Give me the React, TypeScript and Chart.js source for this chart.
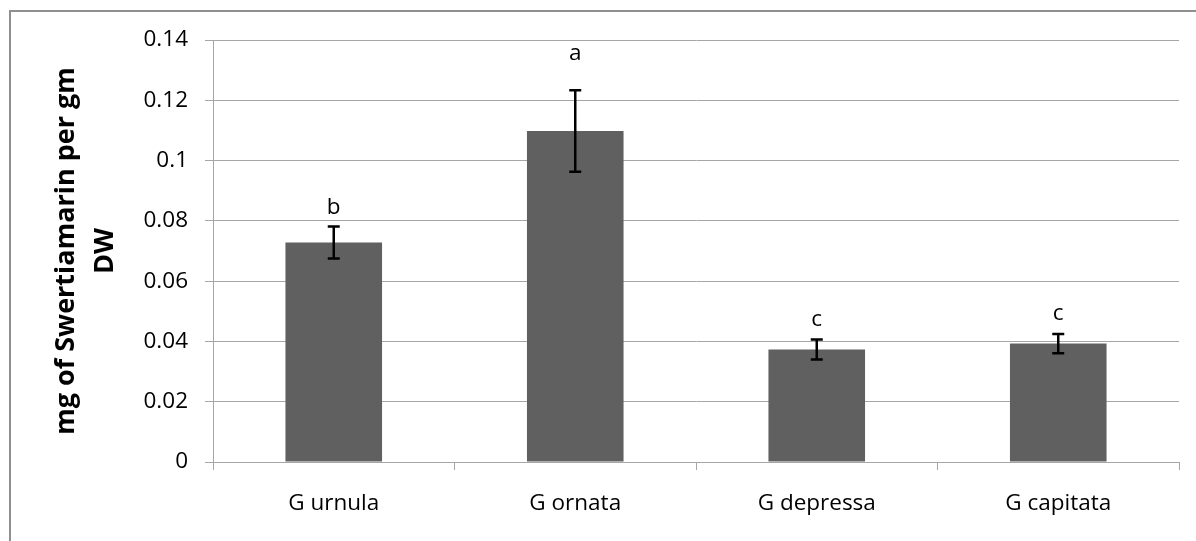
import React, { useEffect, useRef } from "react";
import { Chart, registerables } from "chart.js";

Chart.register(...registerables);

const categories = ["G urnula", "G ornata", "G depressa", "G capitata"];
const values = [0.0728, 0.1098, 0.0373, 0.0393];
const errors = [0.0053, 0.0135, 0.0033, 0.0032];
const groupLetters = ["b", "a", "c", "c"];
const letterBaselines = [0.0824, 0.1333, 0.045, 0.047];
const yTickLabels = ["0", "0.02", "0.04", "0.06", "0.08", "0.1", "0.12", "0.14"];
const yTitleLines = ["mg of Swertiamarin per gm", "DW"];

const FONT = "'Open Sans', 'Liberation Sans', sans-serif";
const GRID = "#a6a6a6";

const overlayPlugin = {
  id: "overlay",
  beforeDraw(chart: any) {
    const ctx = chart.ctx;
    ctx.save();
    ctx.fillStyle = "#ffffff";
    ctx.fillRect(0, 0, chart.width, chart.height);
    ctx.restore();
  },
  afterDatasetsDraw(chart: any) {
    const ctx = chart.ctx;
    const meta = chart.getDatasetMeta(0);
    const ys = chart.scales.y;
    ctx.save();
    ctx.strokeStyle = "#000000";
    ctx.lineWidth = 2.5;
    meta.data.forEach((bar: any, i: number) => {
      const x = bar.x;
      const top = ys.getPixelForValue(values[i] + errors[i]);
      const bot = ys.getPixelForValue(values[i] - errors[i]);
      ctx.beginPath();
      ctx.moveTo(x, top);
      ctx.lineTo(x, bot);
      ctx.moveTo(x - 6, top);
      ctx.lineTo(x + 6, top);
      ctx.moveTo(x - 6, bot);
      ctx.lineTo(x + 6, bot);
      ctx.stroke();
      ctx.fillStyle = "#000000";
      ctx.font = `22.5px ${FONT}`;
      ctx.textAlign = "center";
      ctx.textBaseline = "alphabetic";
      ctx.fillText(groupLetters[i], x, ys.getPixelForValue(letterBaselines[i]));
    });
    ctx.restore();
  },
  afterDraw(chart: any) {
    const ctx = chart.ctx;
    const area = chart.chartArea;
    const cy = (area.top + area.bottom) / 2;
    ctx.save();
    ctx.fillStyle = "#000000";
    ctx.font = `bold 27px ${FONT}`;
    ctx.textAlign = "center";
    ctx.textBaseline = "alphabetic";
    const baselines = [73.5, 112.5];
    yTitleLines.forEach((line, i) => {
      ctx.save();
      ctx.translate(baselines[i], cy);
      ctx.rotate(-Math.PI / 2);
      ctx.fillText(line, 0, 0);
      ctx.restore();
    });
    ctx.strokeStyle = "#8f8f8f";
    ctx.lineWidth = 2;
    ctx.strokeRect(10, 11, chart.width + 20, chart.height + 20);
    ctx.restore();
  },
};

export default function App() {
  const canvasRef = useRef<HTMLCanvasElement | null>(null);

  useEffect(() => {
    const canvas = canvasRef.current;
    if (!canvas) return;
    const chart = new Chart(canvas, {
      type: "bar",
      data: {
        labels: categories,
        datasets: [
          {
            data: values,
            backgroundColor: "#606060",
            borderWidth: 0,
            barPercentage: 0.4,
            categoryPercentage: 1,
          },
        ],
      },
      options: {
        responsive: false,
        animation: false,
        devicePixelRatio: 1,
        layout: { padding: { top: 40, right: 17, left: 0, bottom: 0 } },
        plugins: {
          legend: { display: false },
          tooltip: { enabled: false },
          title: { display: false },
        },
        scales: {
          x: {
            grid: {
              offset: true,
              drawOnChartArea: false,
              color: GRID,
              tickLength: 8,
            },
            border: { color: GRID },
            ticks: {
              color: "#000000",
              font: { family: FONT, size: 22.5 },
              padding: 20,
              maxRotation: 0,
            },
            afterFit: (s: any) => {
              s.height = 79;
            },
          },
          y: {
            min: 0,
            max: 0.14,
            ticks: {
              stepSize: 0.02,
              color: "#000000",
              font: { family: FONT, size: 22.5 },
              padding: 17,
              callback: (_v: any, i: number) => yTickLabels[i],
            },
            grid: { color: GRID, tickLength: 8 },
            border: { color: GRID },
            afterFit: (s: any) => {
              s.width = 213;
            },
          },
        },
      },
      plugins: [overlayPlugin],
    });
    return () => chart.destroy();
  }, []);

  return (
    <div style={{ position: "fixed", left: 0, top: 0, width: 1196, height: 541, background: "#fff" }}>
      <canvas ref={canvasRef} width={1196} height={541} style={{ width: 1196, height: 541, display: "block" }} />
    </div>
  );
}
